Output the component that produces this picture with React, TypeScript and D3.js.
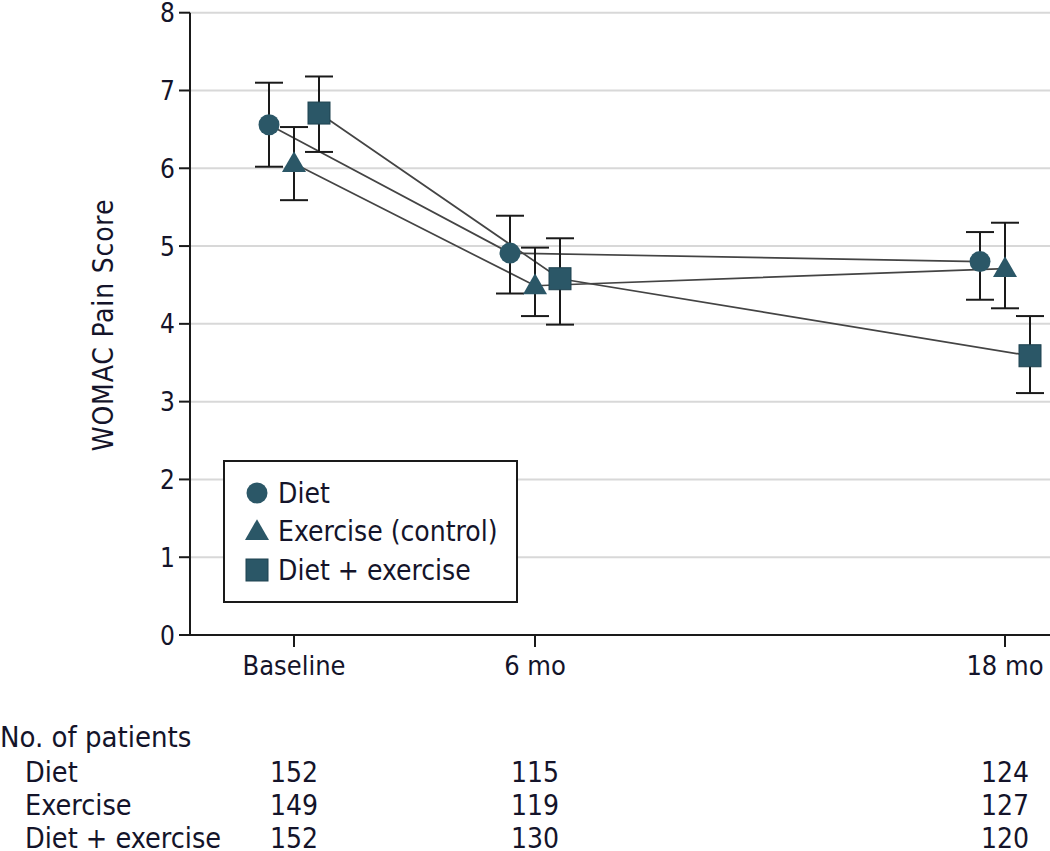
import React from "react";
import * as d3 from "d3";

const timepoints = [0, 6, 18];
const tickLabels = ["Baseline", "6 mo", "18 mo"];
const seriesNames = ["Diet", "Exercise (control)", "Diet + exercise"];
const dietMean = [6.56, 4.91, 4.8];
const dietLo = [6.02, 4.39, 4.31];
const dietHi = [7.1, 5.39, 5.18];
const exMean = [6.06, 4.49, 4.71];
const exLo = [5.59, 4.1, 4.2];
const exHi = [6.53, 4.98, 5.3];
const deMean = [6.71, 4.58, 3.59];
const deLo = [6.21, 3.99, 3.11];
const deHi = [7.18, 5.1, 4.1];
const yTicks = [0, 1, 2, 3, 4, 5, 6, 7, 8];
const tableTitle = "No. of patients";
const tableRows = ["Diet", "Exercise", "Diet + exercise"];
const dietN = [152, 115, 124];
const exN = [149, 119, 127];
const deN = [152, 130, 120];

const W = 1050;
const H = 851;
const FONT = "'Liberation Sans Narrow', 'DejaVu Sans Condensed', 'Noto Sans', sans-serif";
const MARK = "#2b5767";
const TXT = "#14142a";

const x = d3.scaleLinear().domain([0, 6, 18]).range([294, 535, 1005]);
const y = d3.scaleLinear().domain([0, 8]).range([635, 12.7]);
const offsets = [-25, 0, 25];

const series = [
  { name: seriesNames[0], mean: dietMean, lo: dietLo, hi: dietHi, shape: "circle" },
  { name: seriesNames[1], mean: exMean, lo: exLo, hi: exHi, shape: "triangle" },
  { name: seriesNames[2], mean: deMean, lo: deLo, hi: deHi, shape: "square" },
];

function Marker({ shape, cx, cy }: { shape: string; cx: number; cy: number }) {
  if (shape === "circle") return <circle cx={cx} cy={cy} r={10.5} fill={MARK} />;
  if (shape === "square")
    return <rect x={cx - 11} y={cy - 11} width={22} height={22} fill={MARK} stroke="#1e4250" strokeWidth={1} />;
  const sym = d3.symbol().type(d3.symbolTriangle).size(250)();
  return <path d={sym as string} transform={`translate(${cx},${cy + 1.5})`} fill={MARK} />;
}

export default function App() {
  const line = d3.line<[number, number]>().x((d) => d[0]).y((d) => d[1]);
  return (
    <svg width={W} height={H} style={{ position: "absolute", left: 0, top: 0, background: "#fff" }} fontFamily={FONT}>
      {/* gridlines */}
      {yTicks.filter((t) => t > 0).map((t) => (
        <line key={t} x1={190} x2={W} y1={y(t)} y2={y(t)} stroke="#d8d8d8" strokeWidth={2} />
      ))}
      {/* y axis */}
      <line x1={190} x2={190} y1={y(8)} y2={y(0) + 1} stroke="#1a1a1a" strokeWidth={2} />
      {yTicks.map((t) => (
        <g key={t}>
          <line x1={179} x2={190} y1={y(t)} y2={y(t)} stroke="#1a1a1a" strokeWidth={2} />
          <text x={175} y={y(t) + 9.5} textAnchor="end" fontSize={26} fill={TXT}>{t}</text>
        </g>
      ))}
      {/* x axis */}
      <line x1={189} x2={W} y1={y(0)} y2={y(0)} stroke="#1a1a1a" strokeWidth={2} />
      {timepoints.map((t, i) => (
        <g key={t}>
          <line x1={x(t)} x2={x(t)} y1={y(0)} y2={y(0) + 12} stroke="#1a1a1a" strokeWidth={2} />
          <text x={x(t)} y={675} textAnchor="middle" fontSize={27} fill={TXT}>{tickLabels[i]}</text>
        </g>
      ))}
      {/* y title */}
      <text transform={`translate(113,${325}) rotate(-90)`} textAnchor="middle" fontSize={28} letterSpacing={0.8} fill={TXT}>WOMAC Pain Score</text>
      {/* connecting lines */}
      {series.map((s, si) => (
        <path key={s.name} d={line(timepoints.map((t, i) => [x(t) + offsets[si], y(s.mean[i])]) as [number, number][]) as string}
          fill="none" stroke="#444" strokeWidth={1.7} />
      ))}
      {/* error bars */}
      {series.map((s, si) => timepoints.map((t, i) => {
        const cx = x(t) + offsets[si];
        return (
          <g key={`${si}-${i}`} stroke="#1a1a1a" strokeWidth={2}>
            <line x1={cx} x2={cx} y1={y(s.lo[i])} y2={y(s.hi[i])} />
            <line x1={cx - 14} x2={cx + 14} y1={y(s.lo[i])} y2={y(s.lo[i])} />
            <line x1={cx - 14} x2={cx + 14} y1={y(s.hi[i])} y2={y(s.hi[i])} />
          </g>
        );
      }))}
      {/* markers */}
      {series.map((s, si) => timepoints.map((t, i) => (
        <Marker key={`m${si}-${i}`} shape={s.shape} cx={x(t) + offsets[si]} cy={y(s.mean[i])} />
      )))}
      {/* legend */}
      <rect x={224} y={461} width={293} height={141} fill="#fff" stroke="#1a1a1a" strokeWidth={2} />
      {series.map((s, si) => {
        const ly = 493 + si * 38.5;
        return (
          <g key={`l${si}`}>
            <Marker shape={s.shape} cx={257} cy={ly} />
            <text x={278} y={ly + 9.5} fontSize={28} fill={TXT}>{s.name}</text>
          </g>
        );
      })}
      {/* table */}
      <text x={0} y={747} fontSize={29} fill={TXT}>{tableTitle}</text>
      {[dietN, exN, deN].map((row, ri) => (
        <g key={`r${ri}`}>
          <text x={25} y={782 + ri * 33} fontSize={28.5} fill={TXT}>{tableRows[ri]}</text>
          {row.map((n, i) => (
            <text key={i} x={x(timepoints[i])} y={782 + ri * 33} textAnchor="middle" fontSize={28} fill={TXT}>{n}</text>
          ))}
        </g>
      ))}
    </svg>
  );
}
